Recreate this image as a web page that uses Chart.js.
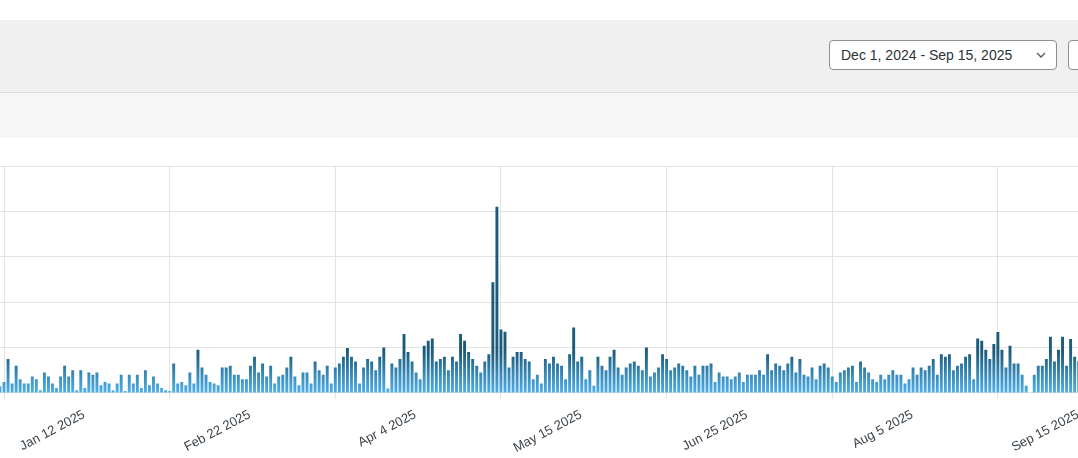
<!DOCTYPE html>
<html>
<head>
<meta charset="utf-8">
<script src="https://cdn.jsdelivr.net/npm/chart.js@4"></script>
<style>
  body { margin: 0; width: 1078px; height: 458px; overflow: hidden; background: #fff; font-family: "Liberation Sans", Arial, sans-serif; position: relative; }
  .topbar { position: absolute; left: 0; top: 20px; width: 1078px; height: 72px; background: #f0f0f0; border-bottom: 1px solid #dcdcdc; }
  .subbar { position: absolute; left: 0; top: 93px; width: 1078px; height: 45px; background: #f6f6f6; }
  .picker { position: absolute; left: 829px; top: 40px; width: 228px; height: 30px; box-sizing: border-box; background: #fff; border: 1px solid #8c8f94; border-radius: 4px; font-size: 14px; color: #2c3338; line-height: 28px; padding-left: 11px; }
  .picker svg { position: absolute; right: 10px; top: 10px; }
  .btn2 { position: absolute; left: 1068px; top: 40px; width: 40px; height: 30px; box-sizing: border-box; background: #fff; border: 1px solid #8c8f94; border-radius: 4px; }
  .chart { position: absolute; left: -8px; top: 140px; width: 1102px; height: 324px; }
</style>
</head>
<body>
<div class="topbar"></div>
<div class="subbar"></div>
<div class="picker">Dec 1, 2024 - Sep 15, 2025
  <svg width="10" height="8" viewBox="0 0 10 8"><path d="M1 2 L5 6 L9 2" fill="none" stroke="#50575e" stroke-width="1.3"/></svg>
</div>
<div class="btn2"></div>
<div class="chart"><canvas id="c"></canvas></div>
<script>
// daily values, starting Jan 11 2025
const values = [
  1.5,2.4,7.5,2.1,6,3,2.1,2.1,3.6,3,0.6,4.5,3.6,2.1,1.1,3.6,6,3.6,5,0.6,5,1.1,4.5,4,4.5,1.7,2.4,2.1,0.6,2.1,4,0.4,4,2.1,4,1.1,5,1.7,3.6,2.1,1.1,0.6,0.4,
  6.5,2.1,2.4,1.7,4.5,2.1,9.5,5.6,4,2.4,2.1,1.7,5.6,5.6,6,4,4,3,3,6,8,4.5,6.5,3.6,6,2.1,3.6,4,5.6,8,3.6,1.7,4.5,4.5,2.1,6.9,5,4,6,2.1,5.6,6.5,8,9.9,
  8,6.9,2.1,5.6,7.5,6.9,5,8,10,1,6.5,5.6,7.5,13,9,6.9,4.5,3,10.4,11.5,12,6.9,7.5,8,5,8,6.9,13,11.5,9,7.5,6,4.5,6.9,8.5,24.4,41,14,13.5,5.6,8,9,9,7.5,6.9,3,4,
  2.1,7.5,6.5,8,6.5,6,3,8.5,14.4,6.9,8,3,5,1.6,8,6,5,8,9.5,5.6,4,5.6,6.5,6.9,6,5,10,3.6,4.5,5.6,8.5,7.5,5,5.6,6.5,6,5,3.6,6,4,6,6,
  6.5,2.4,4.5,3.6,3.6,3,3.6,4.5,2.4,4,4,4,5,4,8.5,5,6.5,6,5,6.5,8,4.5,7.5,4,3.6,5.6,3,6,6.5,5.6,3.6,2.4,4.5,5,5.6,6,2.4,6.9,5.6,4.5,3,2.4,4,3,4,5,
  4,4,2.1,3,5.6,4,5.6,5,6,7.5,4,8.5,8,8.5,5,6,6.5,8,8.5,3,12,11.5,9.5,7.5,10.8,13.4,9.5,5.6,10.4,6.5,6.5,4,1.6,0,4,6,6,7.5,12.4,6.9,9.5,12.4,6,11.9,8,
  7
];
const tickLabels = ['Jan 12 2025', 'Feb 22 2025', 'Apr 4 2025', 'May 15 2025', 'Jun 25 2025', 'Aug 5 2025', 'Sep 15 2025'];
const firstTick = 1, tickStep = 41;

const labels = values.map((v, i) => {
  const k = (i - firstTick) / tickStep;
  return Number.isInteger(k) && k >= 0 && k < tickLabels.length ? tickLabels[k] : '';
});

const ctx = document.getElementById('c').getContext('2d');
new Chart(ctx, {
  type: 'bar',
  data: {
    labels: labels,
    datasets: [{
      data: values,
      barPercentage: 0.72,
      categoryPercentage: 1,
      backgroundColor: (c) => {
        const area = c.chart.chartArea;
        if (!area) return '#2a7fb0';
        const y = c.chart.scales.y;
        const g = c.chart.ctx.createLinearGradient(0, area.bottom, 0, y.getPixelForValue(9));
        g.addColorStop(0, '#4fb0ea');
        g.addColorStop(1, '#1b5b7c');
        return g;
      }
    }]
  },
  options: {
    responsive: true,
    maintainAspectRatio: false,
    animation: false,
    layout: { padding: { top: 26, left: 0, right: 0, bottom: 0 } },
    plugins: { legend: { display: false }, tooltip: { enabled: false } },
    scales: {
      x: {
        grid: {
          offset: false,
          color: (c) => labels[c.index] ? '#e3e3e3' : 'rgba(0,0,0,0)',
          tickLength: 6
        },
        border: { display: false },
        ticks: {
          autoSkip: false,
          minRotation: 28,
          maxRotation: 28,
          labelOffset: 80,
          padding: 8,
          color: '#3c434a',
          font: { size: 13, family: '"Liberation Sans", Arial, sans-serif' },
          callback: (v, i) => labels[i]
        }
      },
      y: {
        min: 0,
        max: 50,
        ticks: { display: false, stepSize: 10 },
        grid: { color: '#e3e3e3', drawTicks: false },
        border: { display: false },
        afterFit: (s) => { s.width = 0; }
      }
    }
  }
});
</script>
</body>
</html>
